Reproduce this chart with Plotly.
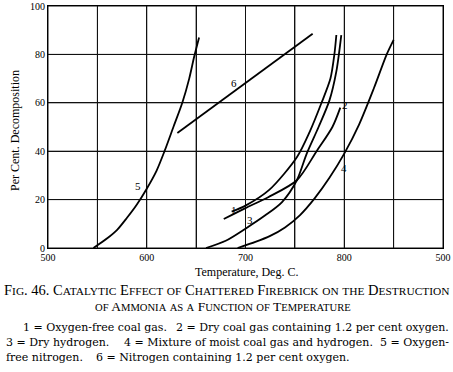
import plotly.graph_objects as go

# ---- data ----
c1_t = [686, 700, 724, 752, 765, 777, 786, 790, 792]
c1_y = [15, 17.5, 24, 37.5, 48, 60, 70, 80, 88]

c2_t = [678, 700, 723, 752, 772, 788, 796]
c2_y = [12, 16.5, 21, 28, 40, 50, 58]

c3_t = [660, 680, 700, 720, 737, 752, 762, 774, 785, 792, 797]
c3_y = [0, 3, 8, 13.5, 19, 28, 39, 50, 61, 73, 88]

c4_t = [692, 710, 725, 740, 755, 770, 785, 800, 815, 830, 843, 850]
c4_y = [0, 2.5, 5, 8.5, 13.5, 20.5, 29, 39, 51, 66, 80, 86]

c5_t = [546, 560, 570, 580, 590, 600, 610, 618, 627, 636, 643, 648, 653]
c5_y = [0, 4, 7.5, 12.5, 18, 24.5, 32, 40, 50, 60, 70, 79, 87]

c6_t = [631, 768]
c6_y = [47.5, 88.5]

curve_labels = ["1", "2", "3", "4", "5", "6"]
label_t = [688, 801, 705, 800, 591, 688]
label_y = [15.5, 59, 11.5, 33, 25.5, 68]

x_ticks = [500, 550, 600, 650, 700, 750, 800, 850, 900]
x_ticktext = ["500", "", "600", "", "700", "", "800", "", "500"]
y_ticks = [0, 20, 40, 60, 80, 100]
y_ticktext = ["0", "20", "40", "60", "80", "100"]

x_title = "Temperature, Deg. C."
y_title = "Per Cent. Decomposition"
caption_1 = "Fig. 46. Catalytic Effect of Chattered Firebrick on the Destruction"
caption_2 = "of Ammonia as a Function of Temperature"
legend_parts = [
    ("1 = Oxygen-free coal gas.", 22, 327, "left"),
    ("2 = Dry coal gas containing 1.2 per cent oxygen.", 450, 327, "right"),
    ("3 = Dry hydrogen.", 5, 342, "left"),
    ("4 = Mixture of moist coal gas and hydrogen.", 123, 342, "left"),
    ("5 = Oxygen-", 450, 342, "right"),
    ("free nitrogen.", 5, 357, "left"),
    ("6 = Nitrogen containing 1.2 per cent oxygen.", 95, 357, "left"),
]

SERIF = "Liberation Serif"
BODY = "DejaVu Serif"
L, R, T, B = 48, 443, 6, 248


def px(x):
    return (x - L) / (R - L)


def py(y):
    return (B - y) / (B - T)


def smallcaps(text, big, small):
    out = []
    for ch in text:
        if ch.islower():
            out.append(f"<span style='font-size:{small}px'>{ch.upper()}</span>")
        else:
            out.append(ch)
    return f"<span style='font-size:{big}px'>" + "".join(out) + "</span>"


fig = go.Figure()
for t, y in [(c1_t, c1_y), (c2_t, c2_y), (c3_t, c3_y), (c4_t, c4_y), (c5_t, c5_y), (c6_t, c6_y)]:
    fig.add_trace(go.Scatter(x=t, y=y, mode="lines",
                             line=dict(color="black", width=1.8, shape="spline", smoothing=0.8),
                             showlegend=False, hoverinfo="skip"))

# grid and frame drawn as shapes at the tick positions
shapes = []
for xv in x_ticks:
    shapes.append(dict(type="line", xref="x", yref="y", x0=xv, x1=xv, y0=y_ticks[0], y1=y_ticks[-1],
                       line=dict(color="#111", width=1), layer="below"))
for yv in y_ticks:
    shapes.append(dict(type="line", xref="x", yref="y", x0=x_ticks[0], x1=x_ticks[-1], y0=yv, y1=yv,
                       line=dict(color="#111", width=1), layer="below"))

annotations = []
for lab, t, y in zip(curve_labels, label_t, label_y):
    annotations.append(dict(x=t, y=y, xref="x", yref="y", text=lab, showarrow=False,
                            font=dict(family=SERIF, size=11, color="black")))

annotations.append(dict(x=px(246), y=py(272), xref="paper", yref="paper", text=x_title,
                        showarrow=False, xanchor="center", yanchor="middle",
                        font=dict(family=SERIF, size=12, color="black")))
annotations.append(dict(x=px(15), y=py(131), xref="paper", yref="paper", text=y_title,
                        showarrow=False, textangle=-90, xanchor="center", yanchor="middle",
                        font=dict(family=SERIF, size=12, color="black")))
annotations.append(dict(x=px(227), y=py(290), xref="paper", yref="paper",
                        text=smallcaps(caption_1, 14.5, 11.4), showarrow=False,
                        xanchor="center", yanchor="middle",
                        font=dict(family=SERIF, size=14, color="black")))
annotations.append(dict(x=px(223), y=py(306), xref="paper", yref="paper",
                        text=smallcaps(caption_2, 13.5, 10.6), showarrow=False,
                        xanchor="center", yanchor="middle",
                        font=dict(family=SERIF, size=14, color="black")))
for txt, x0, y0, al in legend_parts:
    annotations.append(dict(x=px(x0), y=py(y0), xref="paper", yref="paper", text=txt,
                            showarrow=False, xanchor=al, yanchor="middle", borderpad=0,
                            font=dict(family=BODY, size=11, color="black")))

axis_common = dict(showgrid=True, gridcolor="#111", gridwidth=1, showline=True,
                   linecolor="black", linewidth=1, mirror=True, zeroline=False,
                   automargin=False,
                   ticks="", tickfont=dict(family=SERIF, size=10, color="black"))

fig.update_layout(
    width=453, height=372,
    margin=dict(l=L, r=453 - R, t=T, b=372 - B, autoexpand=False),
    paper_bgcolor="white", plot_bgcolor="white",
    xaxis=dict(range=[500, 900], tickvals=x_ticks, ticktext=x_ticktext, **axis_common),
    yaxis=dict(range=[0, 100], tickvals=y_ticks, ticktext=y_ticktext, **axis_common),
    annotations=annotations,
    shapes=shapes,
)

fig.write_html("out.html", config={"displayModeBar": False},
               post_script="document.body.style.margin='0';")
